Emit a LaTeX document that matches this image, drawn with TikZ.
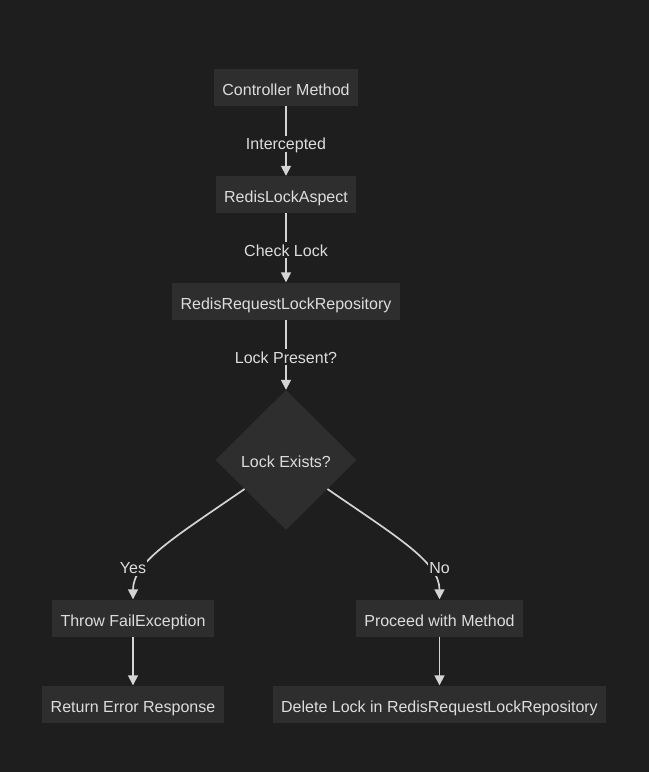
\documentclass[tikz,border=0pt]{standalone}
\usepackage{fontspec}
\setmainfont{Liberation Sans}
\usetikzlibrary{shapes.geometric,arrows.meta}
\definecolor{bg}{HTML}{1E1E1E}
\definecolor{boxc}{HTML}{2E2E2E}
\definecolor{txt}{HTML}{DDDDDD}
\definecolor{ln}{HTML}{D4D4D4}
\begin{document}
\begin{tikzpicture}[x=1pt,y=-1pt,
  lbl/.style={font=\fontsize{16}{19}\selectfont},
  box/.style={lbl, fill=boxc, text=txt, minimum height=37pt, inner xsep=8.5pt, inner ysep=0pt, text height=16.6pt, text depth=0pt},
  dec/.style={lbl, diamond, fill=boxc, text=txt, minimum width=141pt, minimum height=140pt, inner sep=0pt, text height=14pt, text depth=0pt},
  elab/.style={lbl, fill=bg, text=txt, inner xsep=1pt, inner ysep=2pt, text height=12pt, text depth=0pt, yshift=-2.5pt},
  conn/.style={draw=ln, line width=1.7pt, -{Triangle[length=10pt,width=10pt]}}]
\fill[bg] (0,0) rectangle (649,772);
\useasboundingbox (0,0) rectangle (649,772);
\node[box] (cm) at (286,87.5) {Controller Method};
\node[box] (rla) at (286,194.5) {RedisLockAspect};
\node[box] (rrl) at (286,301) {RedisRequestLockRepository};
\node[dec] (dia) at (286,460) {Lock Exists?};
\node[box] (tfe) at (133,618) {Throw FailException};
\node[box] (pwm) at (439.5,618) {Proceed with Method};
\node[box] (rer) at (133,704) {Return Error Response};
\node[box] (del) at (439.5,704) {Delete Lock in RedisRequestLockRepository};
\draw[conn] (cm) -- node[elab] {Intercepted} (rla);
\draw[conn] (rla) -- node[elab] {Check Lock} (rrl);
\draw[conn] (rrl) -- node[elab] {Lock Present?} (dia.north);
\draw[conn] (dia.215) .. controls (175,537) and (133,562) .. (tfe.north);
\draw[conn] (dia.325) .. controls (397,537) and (439.5,562) .. (pwm.north);
\node[elab] (yes) at (133,565) {Yes};
\node[elab] (no) at (439.5,565) {No};
\draw[conn] (tfe) -- (rer);
\draw[conn] (pwm) -- (del);
\end{tikzpicture}
\end{document}
